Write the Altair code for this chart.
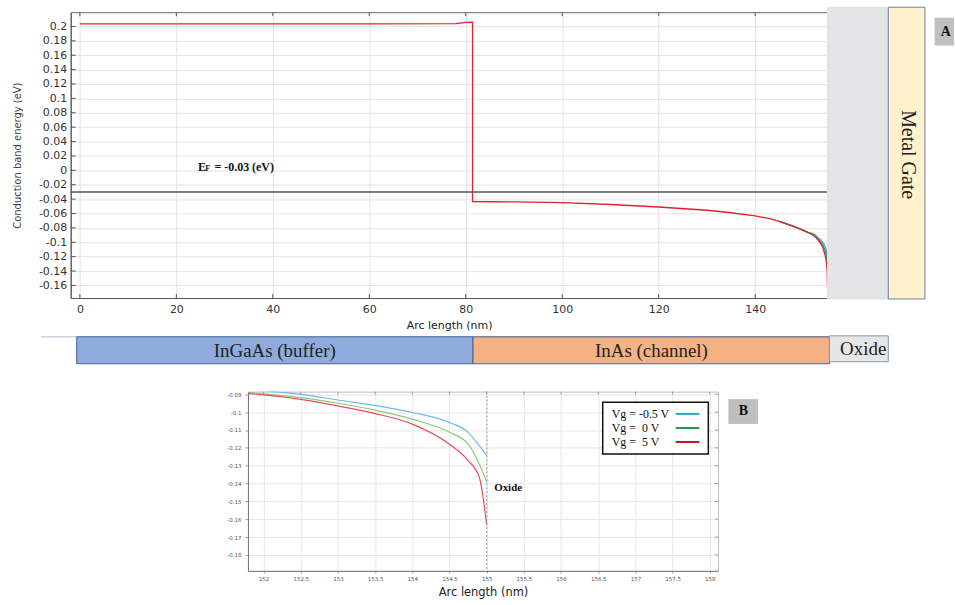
import altair as alt
import pandas as pd

# ---------------- data ----------------
series = ["Vg = -0.5 V", "Vg =  0 V", "Vg =  5 V"]
legend_labels = ["Vg = -0.5 V", "Vg = \u00a00 V", "Vg = \u00a05 V"]
line_colors = ["#3aa7dc", "#2f9e4f", "#e0222c"]
inset_colors = ["#6dbbe9", "#8ec77a", "#ea4d5e"]
swatch_colors = ["#2aa6d8", "#1f9a4a", "#c0141e"]

# shared part of the conduction band profile (nm, eV)
prefix_x = [0, 30, 60, 78, 80, 81.4, 81.4, 85, 90, 100, 110, 120, 130, 135, 140, 143, 145, 148, 150, 151]
prefix_y = [0.2035, 0.2035, 0.2037, 0.2040, 0.2056, 0.2058, -0.0435, -0.0437, -0.0440, -0.0450,
            -0.0475, -0.0510, -0.0555, -0.0590, -0.0633, -0.0672, -0.0710, -0.0780, -0.0835, -0.0865]

# tail near the oxide interface, per gate voltage
tail_x = [151.8, 152, 152.5, 153, 153.5, 154, 154.5, 154.75, 154.9, 155]
tail_blue = [-0.0872, -0.0880, -0.0900, -0.0932, -0.0962, -0.1002, -0.1058, -0.1113, -0.1188, -0.1243]
tail_green = [-0.0890, -0.0898, -0.0919, -0.0950, -0.0989, -0.1039, -0.1113, -0.1178, -0.1290, -0.1392]
tail_red = [-0.0896, -0.0903, -0.0928, -0.0965, -0.1008, -0.1067, -0.1180, -0.1271, -0.1364, -0.1633]
tails = [tail_blue, tail_green, tail_red]

fermi = -0.03

top_x_ticks = [0, 20, 40, 60, 80, 100, 120, 140]
top_y_ticks = [0.2, 0.18, 0.16, 0.14, 0.12, 0.1, 0.08, 0.06, 0.04, 0.02, 0, -0.02, -0.04,
               -0.06, -0.08, -0.1, -0.12, -0.14, -0.16]
inset_x_ticks = [152, 152.5, 153, 153.5, 154, 154.5, 155, 155.5, 156, 156.5, 157, 157.5, 158]
inset_y_ticks = [-0.09, -0.1, -0.11, -0.12, -0.13, -0.14, -0.15, -0.16, -0.17, -0.18]

layers_names = ["InGaAs (buffer)", "InAs (channel)", "Oxide"]
layers_x0 = [-0.66, 81.5, 155.4]
layers_x1 = [81.5, 155.4, 167.6]
layers_fill = ["#8faadc", "#f4b183", "#e7e6e6"]
layers_stroke = ["#4a6394", "#4a6394", "#8494b0"]

# ---------------- tables ----------------
rows = []
for s, t in zip(series, tails):
    xs_ = prefix_x + tail_x
    ys_ = prefix_y + t
    for i, (a, b) in enumerate(zip(xs_, ys_)):
        rows.append({"series": s, "x": a, "y": b, "order": i})
df_top = pd.DataFrame(rows)

rows = []
for s, t in zip(series, tails):
    for i, (a, b) in enumerate(zip(tail_x, t)):
        rows.append({"series": s, "x": a, "y": b, "order": i})
df_inset = pd.DataFrame(rows)

SERIF = "Liberation Serif"
SANS = "DejaVu Sans"

# ---------------- top chart ----------------
W, H = 760, 287
xs = alt.Scale(domain=[-1.9, 155], nice=False, zero=False)
ys = alt.Scale(domain=[-0.1775, 0.2198], nice=False, zero=False)

label_expr = "replace(format(datum.value, '.2~f'), '\u2212', '-')"

x_axis = alt.Axis(values=top_x_ticks, grid=True, gridColor="#e4e4e4", tickSize=0,
                  domainColor="#555", labelFont=SANS, labelFontSize=11, labelColor="#333",
                  labelPadding=6, title="Arc length (nm)", titleFont=SANS, titleFontSize=11,
                  titleFontWeight="normal", titleColor="#222", titlePadding=5)
y_axis = alt.Axis(values=top_y_ticks, grid=True, gridColor="#e4e4e4", tickSize=0,
                  domainColor="#555", labelFont=SANS, labelFontSize=11, labelColor="#333",
                  labelPadding=4, labelExpr=label_expr,
                  title="Conduction band energy (eV)", titleFont=SANS, titleFontSize=10,
                  titleFontWeight="normal", titleColor="#444", titlePadding=16)


def TX(f):
    return alt.X(f, scale=xs, axis=x_axis)


def TY(f):
    return alt.Y(f, scale=ys, axis=y_axis)


base = alt.Chart(df_top)
top_layers = []
for s, c in zip(series, line_colors):
    layer = base.transform_filter(alt.datum.series == s)
    if s != series[-1]:
        layer = layer.transform_filter(alt.datum.x >= 145)
    top_layers.append(
        layer.mark_line(color=c, strokeWidth=1.3, clip=True)
        .encode(x=TX("x:Q"), y=TY("y:Q"), order="order:Q")
    )

fermi_rule = alt.Chart(pd.DataFrame({"y": [fermi]})).mark_rule(
    color="#555", strokeWidth=1.5).encode(y=TY("y:Q"))

ef_df = pd.DataFrame({"x": [24.5, 26.0, 27.9], "y": [0.0052, 0.0012, 0.0052],
                      "t": ["E", "F", "= -0.03 (eV)"], "fs": [12, 8, 12]})
ef_text = alt.Chart(ef_df).mark_text(font=SERIF, fontWeight="bold", align="left",
                                     baseline="middle", color="#111").encode(
    x=TX("x:Q"), y=TY("y:Q"),
    text="t:N", size=alt.Size("fs:Q", scale=None, legend=None))

# inward ticks
xt = alt.Chart(pd.DataFrame({"v": top_x_ticks}))
tick_bottom = xt.mark_rule(color="#555").encode(
    x=TX("v:Q"), y=alt.value(H), y2=alt.value(H - 4))
tick_top = xt.mark_rule(color="#555").encode(
    x=TX("v:Q"), y=alt.value(0), y2=alt.value(4))
yt = alt.Chart(pd.DataFrame({"v": top_y_ticks}))
tick_left = yt.mark_rule(color="#555").encode(
    y=TY("v:Q"), x=alt.value(0), x2=alt.value(5))

# metal gate, label box
gate_df = pd.DataFrame({
    "x": [155.0, 167.6, 177.3], "x2": [167.6, 175.2, 181.1],
    "y": [0.2267, 0.2267, 0.2115], "y2": [-0.1789, -0.1789, 0.1741],
    "fill": ["#e4e3e5", "#fff2cc", "#bfbfbf"], "stroke": ["#e4e3e5", "#6d7fa0", "#bfbfbf"]})
gate = alt.Chart(gate_df).mark_rect(clip=False, strokeWidth=1).encode(
    x=TX("x:Q"), x2="x2:Q", y=TY("y:Q"), y2="y2:Q",
    fill=alt.Color("fill:N", scale=None), stroke=alt.Color("stroke:N", scale=None))
gate_text = alt.Chart(pd.DataFrame({"x": [171.6], "y": [0.0218], "t": ["Metal Gate"]})).mark_text(
    font=SERIF, fontSize=20, angle=90, align="center", baseline="middle", color="#222").encode(
    x=TX("x:Q"), y=TY("y:Q"), text="t:N")
a_text = alt.Chart(pd.DataFrame({"x": [179.5], "y": [0.1921], "t": ["A"]})).mark_text(
    font=SERIF, fontSize=14, fontWeight="bold", align="center", baseline="middle",
    color="#111").encode(x=TX("x:Q"), y=TY("y:Q"), text="t:N")

# material stack
mat_df = pd.DataFrame({"name": layers_names, "x": layers_x0, "x2": layers_x1,
                       "y": [-0.2315, -0.2315, -0.2301], "y2": [-0.2689, -0.2689, -0.2661],
                       "fill": layers_fill, "stroke": layers_stroke,
                       "cx": [40.4, 118.5, 162.4], "cy": [-0.2509, -0.2509, -0.2485]})
mat_line = alt.Chart(pd.DataFrame({"x": [-8.1], "x2": [155.4], "y": [-0.2315]})).mark_rule(
    color="#c8d3e3", strokeWidth=1.5, clip=False).encode(
    x=TX("x:Q"), x2="x2:Q", y=TY("y:Q"))
mat = alt.Chart(mat_df).mark_rect(clip=False, strokeWidth=1).encode(
    x=TX("x:Q"), x2="x2:Q", y=TY("y:Q"), y2="y2:Q",
    fill=alt.Color("fill:N", scale=None), stroke=alt.Color("stroke:N", scale=None))
mat_text = alt.Chart(mat_df).mark_text(font=SERIF, fontSize=19, align="center",
                                       baseline="middle", color="#222").encode(
    x=TX("cx:Q"), y=TY("cy:Q"), text="name:N")

top = alt.layer(*top_layers, fermi_rule, ef_text, tick_bottom, tick_top, tick_left,
                gate, gate_text, a_text, mat_line, mat, mat_text).properties(
    width=W, height=H, view=alt.ViewBackground(stroke="#666", strokeWidth=1))

# ---------------- inset chart ----------------
IW, IH = 472, 180
ixs = alt.Scale(domain=[151.79, 158.11], nice=False, zero=False)
iys = alt.Scale(domain=[-0.1889, -0.0885], nice=False, zero=False)

ix_axis = alt.Axis(values=inset_x_ticks, grid=True, gridColor="#e6e6e6", tickSize=2,
                   tickColor="#999", domainColor="#777", labelFont=SANS, labelFontSize=5.5,
                   labelColor="#555", labelPadding=4, labelExpr="format(datum.value, '~f')",
                   title="Arc length (nm)", titleFont=SANS, titleFontSize=11.5,
                   titleFontWeight="normal", titleColor="#222", titlePadding=4)
iy_axis = alt.Axis(values=inset_y_ticks, grid=True, gridColor="#e6e6e6", tickSize=3,
                   tickColor="#999", domainColor="#777", labelFont=SANS, labelFontSize=5.5,
                   labelColor="#555", labelPadding=4, labelExpr=label_expr, title=None)


def IX(f):
    return alt.X(f, scale=ixs, axis=ix_axis)


def IY(f):
    return alt.Y(f, scale=iys, axis=iy_axis)


ibase = alt.Chart(df_inset)
inset_layers = []
for s, c in zip(series, inset_colors):
    inset_layers.append(
        ibase.transform_filter(alt.datum.series == s)
        .mark_line(color=c, strokeWidth=1.2, clip=True, interpolate="monotone")
        .encode(x=IX("x:Q"), y=IY("y:Q"), order="order:Q")
    )

oxide_rule = alt.Chart(pd.DataFrame({"x": [155]})).mark_rule(
    color="#a0a0a0", strokeDash=[2, 2], strokeWidth=1).encode(x=IX("x:Q"))
oxide_text = alt.Chart(pd.DataFrame({"x": [155.10], "y": [-0.1423], "t": ["Oxide"]})).mark_text(
    font=SERIF, fontSize=11, fontWeight="bold", align="left", baseline="middle",
    color="#111").encode(x=IX("x:Q"), y=IY("y:Q"), text="t:N")

iyt = alt.Chart(pd.DataFrame({"v": inset_y_ticks}))
itick_right = iyt.mark_rule(color="#999").encode(
    y=IY("v:Q"), x=alt.value(IW), x2=alt.value(IW - 3))
ixt = alt.Chart(pd.DataFrame({"v": inset_x_ticks}))
itick_top = ixt.mark_rule(color="#999").encode(
    x=IX("v:Q"), y=alt.value(0), y2=alt.value(3))

leg_box = alt.Chart(pd.DataFrame({"x": [156.56], "x2": [157.98], "y": [-0.0944],
                                  "y2": [-0.1234]})).mark_rect(
    fill="white", stroke="#111", strokeWidth=1.5).encode(
    x=IX("x:Q"), x2="x2:Q", y=IY("y:Q"), y2="y2:Q")
leg_df = pd.DataFrame({"t": legend_labels, "x": [156.68] * 3, "y": [-0.1010, -0.1089, -0.1167],
                       "sx": [157.54] * 3, "sx2": [157.86] * 3, "c": swatch_colors})
leg_text = alt.Chart(leg_df).mark_text(font=SERIF, fontSize=12, align="left",
                                       baseline="middle", color="#111").encode(
    x=IX("x:Q"), y=IY("y:Q"), text="t:N")
leg_sw = alt.Chart(leg_df).mark_rule(strokeWidth=2).encode(
    x=IX("sx:Q"), x2="sx2:Q", y=IY("y:Q"), color=alt.Color("c:N", scale=None))

b_box = alt.Chart(pd.DataFrame({"x": [158.25], "x2": [158.65], "y": [-0.0927],
                                "y2": [-0.1066]})).mark_rect(
    fill="#bfbfbf", clip=False).encode(
    x=IX("x:Q"), x2="x2:Q", y=IY("y:Q"), y2="y2:Q")
b_text = alt.Chart(pd.DataFrame({"x": [158.45], "y": [-0.0996], "t": ["B"]})).mark_text(
    font=SERIF, fontSize=14, fontWeight="bold", align="center", baseline="middle",
    color="#111", clip=False).encode(x=IX("x:Q"), y=IY("y:Q"), text="t:N")

inset = alt.layer(*inset_layers, oxide_rule, oxide_text, itick_right, itick_top,
                  leg_box, leg_sw, leg_text, b_box, b_text).properties(
    width=IW, height=IH, view=alt.ViewBackground(stroke="#bbb", strokeWidth=1))

spacer = alt.Chart(pd.DataFrame({"a": [0]})).mark_point(opacity=0).encode(
    x=alt.value(0), y=alt.value(0)).properties(
    width=156, height=10, view=alt.ViewBackground(stroke=None))

chart = alt.vconcat(
    top,
    alt.hconcat(spacer, inset, spacing=0),
    spacing=23,
).properties(
    padding={"left": 12, "top": 5, "right": 0, "bottom": 0},
    background="white",
)

chart.save("out.html", embed_options={"renderer": "svg", "actions": False})
